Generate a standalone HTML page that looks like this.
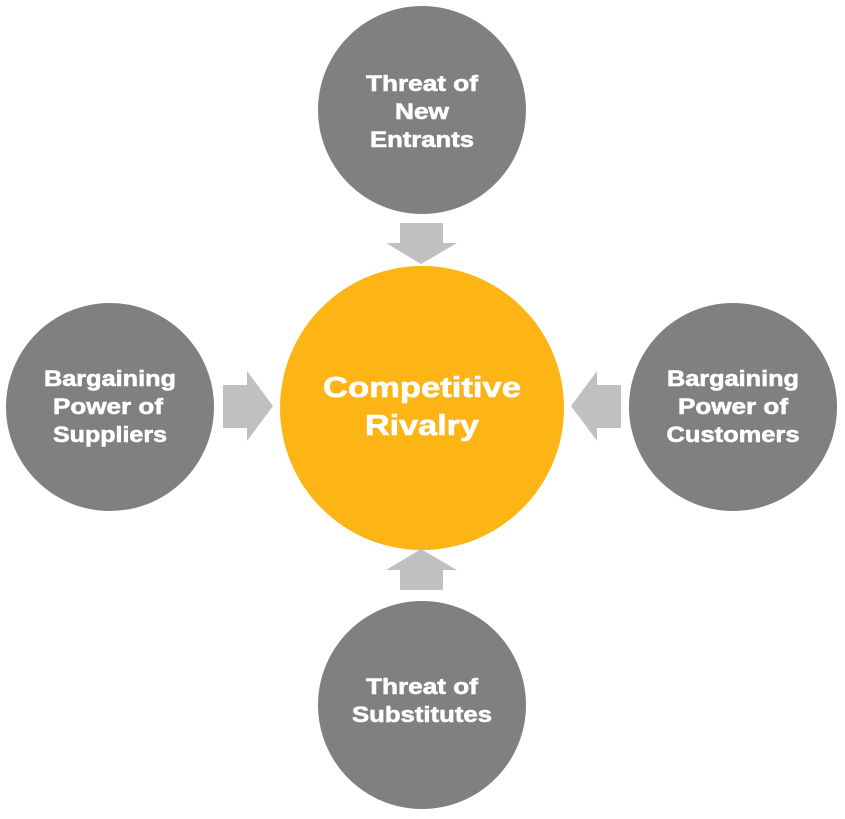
<!DOCTYPE html>
<html><head><style>body{margin:0;background:#fff}</style></head><body>
<svg width="845" height="814" viewBox="0 0 845 814" xmlns="http://www.w3.org/2000/svg">
<g fill="#808080">
<circle cx="422" cy="110" r="104"/>
<circle cx="110" cy="407" r="104"/>
<circle cx="733" cy="407" r="104"/>
<circle cx="422" cy="705" r="104"/>
</g>
<circle cx="422" cy="408" r="142" fill="#FDB515"/>
<g fill="#c0c0c0">
<polygon points="400,223 443,223 443,243 457,243 421,264 386,243 400,243"/>
<polygon points="223,385 247,385 247,371 273,406 247,441 247,428 223,428"/>
<polygon points="621,385 597,385 597,371 571,406 597,441 597,428 621,428"/>
<polygon points="400,590 443,590 443,570 457,570 421,549 386,570 400,570"/>
</g>
<g font-family="Liberation Sans, sans-serif" font-weight="bold" fill="#fff" stroke="#fff" stroke-width="0.6" text-anchor="middle" font-size="22" lengthAdjust="spacingAndGlyphs">
<text x="422" y="91" textLength="112" lengthAdjust="spacingAndGlyphs">Threat of</text>
<text x="422" y="119" textLength="54" lengthAdjust="spacingAndGlyphs">New</text>
<text x="422" y="147" textLength="104" lengthAdjust="spacingAndGlyphs">Entrants</text>
<text x="110" y="386" textLength="132" lengthAdjust="spacingAndGlyphs">Bargaining</text>
<text x="108" y="414" textLength="110" lengthAdjust="spacingAndGlyphs">Power of</text>
<text x="110" y="442" textLength="114" lengthAdjust="spacingAndGlyphs">Suppliers</text>
<text x="733" y="386" textLength="132" lengthAdjust="spacingAndGlyphs">Bargaining</text>
<text x="733" y="414" textLength="110" lengthAdjust="spacingAndGlyphs">Power of</text>
<text x="733" y="442" textLength="133" lengthAdjust="spacingAndGlyphs">Customers</text>
<text x="422" y="694" textLength="112" lengthAdjust="spacingAndGlyphs">Threat of</text>
<text x="422" y="722" textLength="140" lengthAdjust="spacingAndGlyphs">Substitutes</text>
<text x="422" y="397" font-size="29" textLength="198" lengthAdjust="spacingAndGlyphs">Competitive</text>
<text x="422" y="435" font-size="29" textLength="114" lengthAdjust="spacingAndGlyphs">Rivalry</text>
</g>
</svg>
</body></html>
